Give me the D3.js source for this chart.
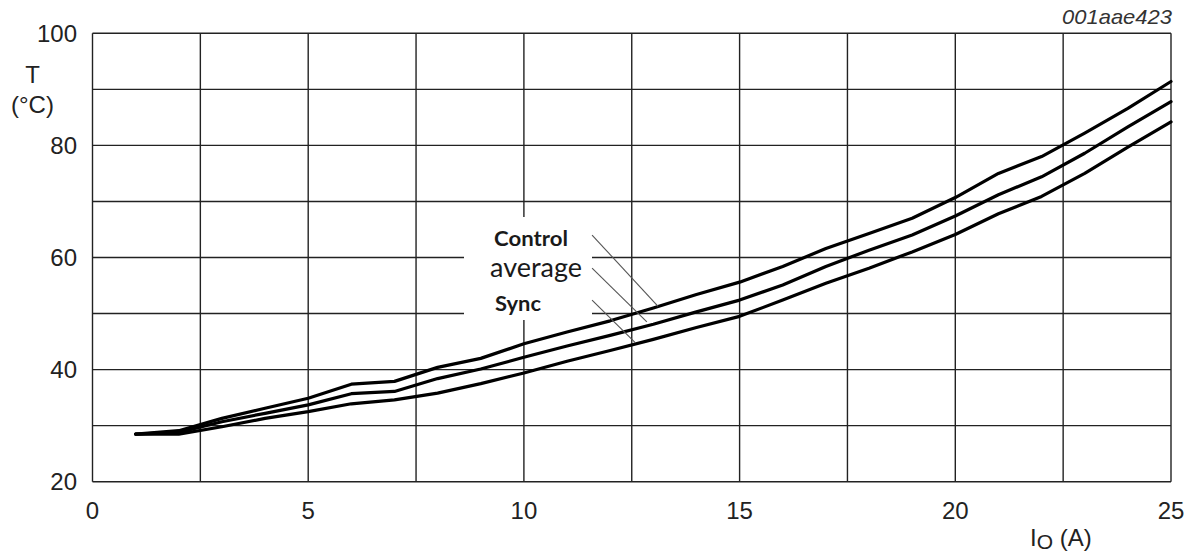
<!DOCTYPE html>
<html>
<head>
<meta charset="utf-8">
<script src="https://cdn.jsdelivr.net/npm/d3@7"></script>
<style>
  html, body { margin: 0; padding: 0; background: #fff; }
  svg { display: block; }
</style>
</head>
<body>
<svg id="chart" width="1193" height="557"></svg>
<script>
// ---- data ----
const currentA = [1,2,3,4,5,6,7,8,9,10,11,12,13,14,15,16,17,18,19,20,21,22,23,24,25];
const tempControl = [28.5,29.1,31.3,33.1,34.9,37.4,37.9,40.4,42.0,44.6,46.7,48.7,51.0,53.4,55.6,58.4,61.6,64.3,67.0,70.7,75.0,78.0,82.2,86.6,91.4];
const tempAverage = [28.5,28.8,30.7,32.2,33.7,35.7,36.1,38.4,40.1,42.2,44.2,46.1,48.1,50.3,52.4,55.1,58.4,61.3,64.0,67.4,71.2,74.4,78.6,83.3,87.8];
const tempSync    = [28.5,28.5,29.8,31.3,32.5,33.9,34.6,35.8,37.5,39.4,41.5,43.4,45.4,47.5,49.5,52.4,55.4,58.1,61.0,64.1,67.8,70.9,75.0,79.7,84.2];
const xTicks = [0,5,10,15,20,25];
const xGrid = [0,2.5,5,7.5,10,12.5,15,17.5,20,22.5,25];
const yTicks = [20,40,60,80,100];
const yGrid = [20,30,40,50,60,70,80,90,100];
const seriesNames = ["Control","average","Sync"];
// leader line anchors (data units): label end -> curve point
const leaderFrom = [[11.58,64.0],[11.58,58.1],[11.58,52.4]];
const leaderTo   = [[13.11,51.3],[12.85,48.5],[12.58,44.8]];

// ---- layout ----
const svg = d3.select("#chart");
const L = 92.5, R = 1171, T = 33.3, B = 481.7;
const x = d3.scaleLinear().domain([0,25]).range([L,R]);
const y = d3.scaleLinear().domain([20,100]).range([B,T]);
const gridColor = "#222";

// grid
const g = svg.append("g");
g.selectAll("line.v").data(xGrid).join("line")
  .attr("x1", d=>x(d)).attr("x2", d=>x(d)).attr("y1", T).attr("y2", B)
  .attr("stroke", gridColor).attr("stroke-width", 1.4);
g.selectAll("line.h").data(yGrid).join("line")
  .attr("y1", d=>y(d)).attr("y2", d=>y(d)).attr("x1", L).attr("x2", R)
  .attr("stroke", gridColor).attr("stroke-width", 1.4);

// tick labels
const font = "'Liberation Sans', Arial, sans-serif";
svg.append("g").selectAll("text").data(yTicks).join("text")
  .attr("x", 77).attr("y", d=>y(d)+8.6).attr("text-anchor","end")
  .attr("font-family",font).attr("font-size",24)
  .attr("fill","#222").text(d=>d);
svg.append("g").selectAll("text").data(xTicks).join("text")
  .attr("x", d=>x(d)).attr("y", 519).attr("text-anchor","middle")
  .attr("font-family",font).attr("font-size",24)
  .attr("fill","#222").text(d=>d);

// axis titles
svg.append("text").attr("x",32.5).attr("y",83).attr("text-anchor","middle")
  .attr("font-family",font).attr("font-size",24).attr("fill","#222").text("T");
svg.append("text").attr("x",32.5).attr("y",113).attr("text-anchor","middle")
  .attr("font-family",font).attr("font-size",24).attr("fill","#222").text("(°C)");
const xt = svg.append("text").attr("x",1030).attr("y",546)
  .attr("font-family",font).attr("font-size",24).attr("fill","#222");
xt.append("tspan").text("I");
xt.append("tspan").attr("dy",3).attr("font-size",21).text("O");
xt.append("tspan").attr("dy",-3).text(" (A)");

svg.append("text").attr("x",1172).attr("y",24).attr("text-anchor","end")
  .attr("font-family",font).attr("font-style","italic").attr("font-size",21)
  .attr("fill","#333").attr("textLength",110).attr("lengthAdjust","spacingAndGlyphs")
  .text("001aae423");

// curves
const series = [tempControl, tempAverage, tempSync];
const line = d3.line().x((d,i)=>x(currentA[i])).y(d=>y(d)).curve(d3.curveLinear);
svg.append("g").selectAll("path").data(series).join("path")
  .attr("d", line).attr("fill","none").attr("stroke","#000")
  .attr("stroke-width",3.2).attr("stroke-linejoin","round").attr("stroke-linecap","round");

// label box (white background that hides grid)
svg.append("rect").attr("x",464).attr("y",217).attr("width",128).attr("height",103).attr("fill","#fff");

// leader lines
svg.append("g").selectAll("line").data(leaderFrom).join("line")
  .attr("x1", d=>x(d[0])).attr("y1", d=>y(d[1]))
  .attr("x2", (d,i)=>x(leaderTo[i][0])).attr("y2", (d,i)=>y(leaderTo[i][1]))
  .attr("stroke","#555").attr("stroke-width",1.1);

// labels
const lab = "Lato, 'Open Sans', sans-serif";
svg.append("text").attr("x",494).attr("y",246).attr("font-family",lab).attr("font-weight","bold")
  .attr("font-size",20).attr("fill","#1a1a1a").attr("textLength",74).attr("lengthAdjust","spacingAndGlyphs")
  .text(seriesNames[0]);
svg.append("text").attr("x",490).attr("y",277).attr("font-family",lab)
  .attr("font-size",27).attr("fill","#1a1a1a").attr("textLength",92).attr("lengthAdjust","spacingAndGlyphs")
  .text(seriesNames[1]);
svg.append("text").attr("x",495).attr("y",311).attr("font-family",lab).attr("font-weight","bold")
  .attr("font-size",20).attr("fill","#1a1a1a").attr("textLength",46).attr("lengthAdjust","spacingAndGlyphs")
  .text(seriesNames[2]);
</script>
</body>
</html>
